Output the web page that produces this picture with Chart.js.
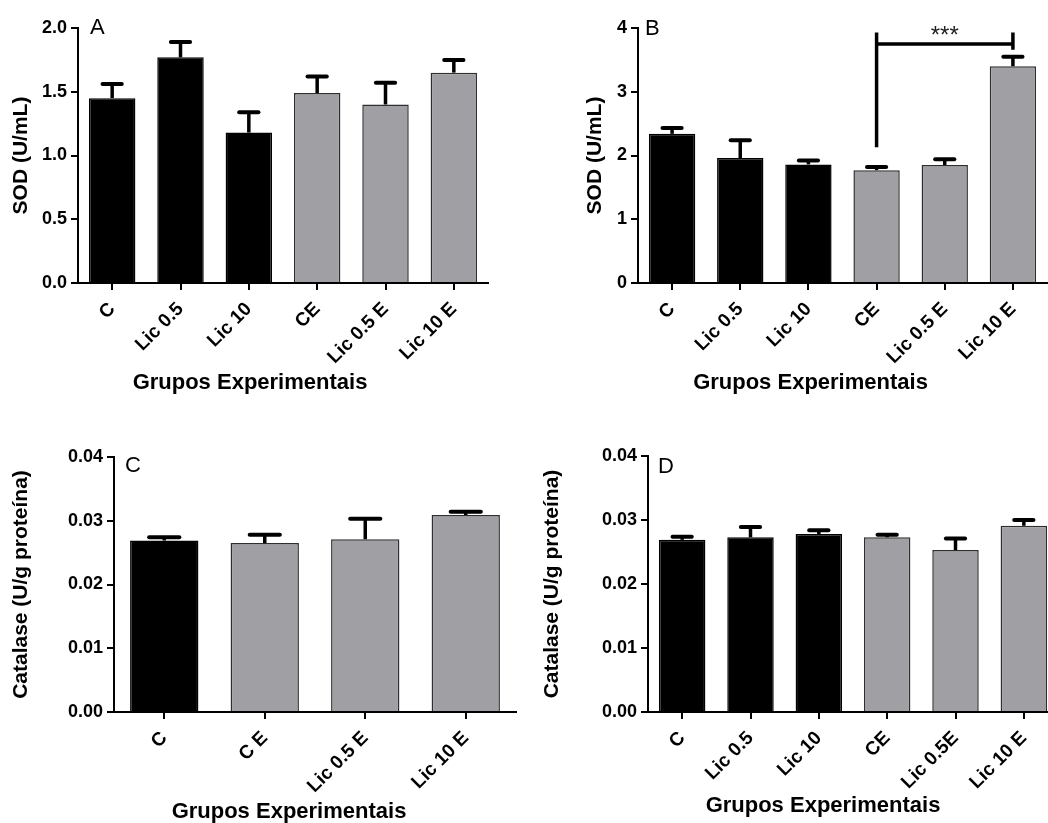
<!DOCTYPE html>
<html lang="pt">
<head>
<meta charset="utf-8">
<title>SOD e Catalase</title>
<script src="https://cdn.jsdelivr.net/npm/chart.js@4/dist/chart.umd.min.js"></script>
<style>
  html, body { margin: 0; padding: 0; background: #fff; }
  body { position: relative; width: 1048px; height: 823px; overflow: hidden; }
  canvas { position: absolute; }
</style>
</head>
<body>
<canvas id="panelA" width="524" height="400" style="left:0px;top:0px"></canvas>
<canvas id="panelB" width="500" height="400" style="left:572px;top:0px"></canvas>
<canvas id="panelC" width="540" height="393" style="left:0px;top:430px"></canvas>
<canvas id="panelD" width="548" height="393" style="left:530px;top:430px"></canvas>
<script>
// ---- data ----
const groupsSix = ['C', 'Lic 0.5', 'Lic 10', 'CE', 'Lic 0.5 E', 'Lic 10 E'];
const groupsC   = ['C', 'C E', 'Lic 0.5 E', 'Lic 10 E'];
const groupsD   = ['C', 'Lic 0.5', 'Lic 10', 'CE', 'Lic 0.5E', 'Lic 10 E'];

const sodA      = [1.45, 1.77, 1.18, 1.49, 1.40, 1.65];
const sodA_sem  = [0.11, 0.12, 0.16, 0.13, 0.17, 0.10];

const sodB      = [2.34, 1.96, 1.86, 1.77, 1.85, 3.40];
const sodB_sem  = [0.09, 0.28, 0.06, 0.05, 0.09, 0.15];

const catC      = [0.0269, 0.0265, 0.0271, 0.0309];
const catC_sem  = [0.0005, 0.0013, 0.0032, 0.0005];

const catD      = [0.0269, 0.0273, 0.0278, 0.0273, 0.0253, 0.0291];
const catD_sem  = [0.0005, 0.0016, 0.0006, 0.0004, 0.0018, 0.0009];

// CE vs Lic 10 E (panel B)
const sigB = { from: 'CE', to: 'Lic 10 E', stars: '***', line: 3.75, top: 3.93, leftEnd: 2.13, rightEnd: 3.66 };

// ---- styling ----
const BLACK = '#000000';
const GREY = '#a0a0a4';
const yTickFont = { family: 'Liberation Sans', weight: 'bold', size: 18 };
const xTickFont = { family: 'Liberation Sans', weight: 'bold', size: 19 };
const titleFont = { family: 'Liberation Sans', weight: 'bold', size: 21 };

// exercised groups (label ends in "E") are drawn grey
const fillFor = labels => labels.map(l => /E$/.test(l.trim()) ? GREY : BLACK);
const edgeFor = labels => labels.map(l => /E$/.test(l.trim()) ? '#2e2e2e' : BLACK);

// SEM whiskers (upper only) with rounded caps
const errorBars = {
  id: 'errorBars',
  afterDatasetsDraw(chart) {
    const { ctx } = chart;
    const y = chart.scales.y;
    chart.data.datasets.forEach((ds, i) => {
      const meta = chart.getDatasetMeta(i);
      meta.data.forEach((bar, j) => {
        const top = y.getPixelForValue(ds.data[j] + ds.sem[j]);
        const half = bar.width / 4;
        ctx.save();
        ctx.strokeStyle = BLACK;
        ctx.lineWidth = 3.5;
        ctx.beginPath();
        ctx.moveTo(bar.x, bar.y);
        ctx.lineTo(bar.x, top);
        ctx.stroke();
        ctx.lineWidth = 4;
        ctx.lineCap = 'round';
        ctx.beginPath();
        ctx.moveTo(bar.x - half + 2, top);
        ctx.lineTo(bar.x + half - 2, top);
        ctx.stroke();
        ctx.restore();
      });
    });
  }
};

// panel letter and x-axis caption
const panelText = {
  id: 'panelText',
  afterDraw(chart, args, opts) {
    const { ctx, chartArea } = chart;
    ctx.save();
    ctx.fillStyle = BLACK;
    if (opts.letter) {
      ctx.font = 'normal 22px "Liberation Sans"';
      ctx.textAlign = 'left';
      ctx.textBaseline = 'alphabetic';
      ctx.fillText(opts.letter, chartArea.left + opts.letterDx, chartArea.top + opts.letterDy);
    }
    if (opts.caption) {
      ctx.font = 'bold 22px "Liberation Sans"';
      ctx.textAlign = 'center';
      ctx.textBaseline = 'middle';
      ctx.fillText(opts.caption, (chartArea.left + chartArea.right) / 2 + opts.captionDx, opts.captionY);
    }
    ctx.restore();
  }
};

// significance bracket
const bracket = {
  id: 'bracket',
  afterDatasetsDraw(chart, args, opts) {
    if (!opts.sig) return;
    const s = opts.sig;
    const { ctx } = chart;
    const x = chart.scales.x, y = chart.scales.y;
    const x1 = x.getPixelForValue(chart.data.labels.indexOf(s.from));
    const x2 = x.getPixelForValue(chart.data.labels.indexOf(s.to));
    const yl = y.getPixelForValue(s.line);
    ctx.save();
    ctx.strokeStyle = BLACK;
    ctx.lineWidth = 3.5;
    ctx.beginPath();
    ctx.moveTo(x1, y.getPixelForValue(s.leftEnd));
    ctx.lineTo(x1, y.getPixelForValue(s.top));
    ctx.moveTo(x1, yl);
    ctx.lineTo(x2, yl);
    ctx.moveTo(x2, y.getPixelForValue(s.top));
    ctx.lineTo(x2, y.getPixelForValue(s.rightEnd));
    ctx.stroke();
    ctx.fillStyle = '#222';
    ctx.font = 'normal 24px "Liberation Sans"';
    ctx.textAlign = 'center';
    ctx.textBaseline = 'alphabetic';
    ctx.fillText(s.stars, (x1 + x2) / 2, yl - 1);
    ctx.restore();
  }
};

function makePanel(id, cfg) {
  const labels = cfg.labels;
  return new Chart(document.getElementById(id), {
    type: 'bar',
    data: {
      labels,
      datasets: [{
        data: cfg.values,
        sem: cfg.sem,
        backgroundColor: fillFor(labels),
        borderColor: edgeFor(labels),
        borderWidth: 1.5,
        barPercentage: 0.68,
        categoryPercentage: 1.0
      }]
    },
    options: {
      responsive: false,
      animation: false,
      devicePixelRatio: 1,
      layout: { padding: cfg.padding },
      plugins: {
        legend: { display: false },
        tooltip: { enabled: false },
        panelText: cfg.text,
        bracket: { sig: cfg.sig || null }
      },
      scales: {
        x: {
          offset: true,
          grid: { display: true, drawOnChartArea: false, offset: false, color: BLACK, lineWidth: 2, tickLength: 7, tickWidth: 2, tickColor: BLACK },
          border: { display: true, color: BLACK, width: 2 },
          ticks: { autoSkip: false, minRotation: 45, maxRotation: 45, color: BLACK, font: xTickFont, padding: 8 },
          afterFit: s => { s.height = cfg.xHeight; }
        },
        y: {
          min: 0,
          max: cfg.max,
          grid: { display: true, drawOnChartArea: false, color: BLACK, lineWidth: 2, tickLength: 7, tickWidth: 2, tickColor: BLACK },
          border: { display: true, color: BLACK, width: 2 },
          ticks: { stepSize: cfg.step, color: BLACK, font: yTickFont, padding: 4,
                   callback: v => Number(v).toFixed(cfg.decimals) },
          title: { display: true, text: cfg.yTitle, color: BLACK, font: titleFont, padding: { top: cfg.yTitlePad, bottom: 0 } },
          afterFit: s => { s.width = cfg.yWidth; }
        }
      }
    },
    plugins: [errorBars, bracket, panelText]
  });
}

makePanel('panelA', {
  labels: groupsSix, values: sodA, sem: sodA_sem,
  max: 2.0, step: 0.5, decimals: 1, yTitle: 'SOD (U/mL)', yTitlePad: 9,
  yWidth: 78, xHeight: 117, padding: { top: 28, right: 36, left: 0, bottom: 0 },
  text: { letter: 'A', letterDx: 12, letterDy: 5.5, caption: 'Grupos Experimentais', captionDx: -33, captionY: 383 }
});

makePanel('panelB', {
  labels: groupsSix, values: sodB, sem: sodB_sem, sig: sigB,
  max: 4, step: 1, decimals: 0, yTitle: 'SOD (U/mL)', yTitlePad: 11,
  yWidth: 66, xHeight: 117, padding: { top: 28, right: 25, left: 0, bottom: 0 },
  text: { letter: 'B', letterDx: 7, letterDy: 7, caption: 'Grupos Experimentais', captionDx: -32, captionY: 383 }
});

makePanel('panelC', {
  labels: groupsC, values: catC, sem: catC_sem,
  max: 0.04, step: 0.01, decimals: 2, yTitle: 'Catalase (U/g proteína)', yTitlePad: 9,
  yWidth: 114, xHeight: 111, padding: { top: 27, right: 24, left: 0, bottom: 0 },
  text: { letter: 'C', letterDx: 11, letterDy: 15, caption: 'Grupos Experimentais', captionDx: -26, captionY: 382 }
});

makePanel('panelD', {
  labels: groupsD, values: catD, sem: catD_sem,
  max: 0.04, step: 0.01, decimals: 2, yTitle: 'Catalase (U/g proteína)', yTitlePad: 10,
  yWidth: 118, xHeight: 111, padding: { top: 26, right: 20, left: 0, bottom: 0 },
  text: { letter: 'D', letterDx: 10, letterDy: 17, caption: 'Grupos Experimentais', captionDx: -30, captionY: 376 }
});
</script>
</body>
</html>
